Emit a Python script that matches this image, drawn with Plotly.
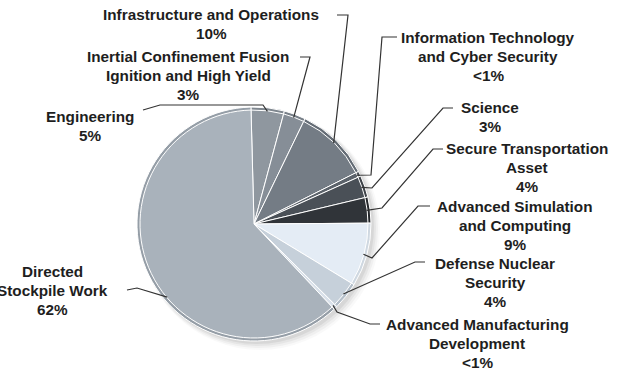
import math
import plotly.graph_objects as go

W, H = 618, 368
OFF = 0  # page body margin is removed via post_script below

# ---- data ----
labels = ["Engineering",
          "Inertial Confinement Fusion<br>Ignition and High Yield",
          "Infrastructure and Operations",
          "Information Technology<br>and Cyber Security",
          "Science",
          "Secure Transportation<br>Asset",
          "Advanced Simulation<br>and Computing",
          "Defense Nuclear<br>Security",
          "Advanced Manufacturing<br>Development",
          "Directed<br>Stockpile Work"]
values = [4.6, 3.0, 10.4, 0.7, 3.0, 3.6, 8.8, 3.8, 0.5, 61.6]
pct_text = ["5%", "3%", "10%", "<1%", "3%", "4%", "9%", "4%", "<1%", "62%"]

# ---- styles / layout ----
colors = ["#8f979f", "#868e97", "#747c85", "#5c636b", "#4a5057", "#303439",
          "#e4ecf5", "#c6d0da", "#d9e1ea", "#a9b2bb"]
rim_colors = ["#7f878f", "#777f88", "#646c75", "#4e545b", "#3d4248", "#24272b",
              "#cfd8e1", "#b3bec9", "#c4ccd5", "#959ea7"]
cx, cy, R = 254, 224, 117
rotation = -1.5
LINE_H = 19

# center x, y of first line
label_pos = [(90, 116), (188, 56), (211, 14), (488, 37), (490, 107), (527, 148),
             (515, 206), (495, 263), (477, 324), (52, 271)]
leader_pts = [
    [(143, 110), (160, 105), (263, 105)],
    [(300, 57), (310, 57)],
    [(337, 15), (348, 15)],
    [(397, 37), (382, 37), (371, 175)],
    [(453, 108), (443, 108), (372, 188)],
    [(443, 149), (433, 149), (382, 208)],
    [(430, 206), (418, 206), (372, 258)],
    [(425, 262), (415, 262)],
    [(380, 324), (370, 324), (337, 312)],
    [(127, 290), (137, 288)],
]
anchor_frac = [0.5, 0.5, 0.5, 0.5, 0.5, 0.5, 0.5, 0.5, 0.5, 0.42]


def dom(r):
    return dict(x=[(cx - OFF - r) / W, (cx - OFF + r) / W],
                y=[1 - (cy - OFF + r) / H, 1 - (cy - OFF - r) / H])


fig = go.Figure()
fig.add_trace(go.Pie(values=values, labels=labels, sort=False, direction="clockwise",
                     rotation=rotation, textinfo="none", hoverinfo="skip",
                     marker=dict(colors=rim_colors, line=dict(color="white", width=1)),
                     domain=dom(R), showlegend=False))
fig.add_trace(go.Pie(values=values, labels=labels, sort=False, direction="clockwise",
                     rotation=rotation, textinfo="none", hoverinfo="skip",
                     marker=dict(colors=colors, line=dict(color="white", width=1)),
                     domain=dom(R - 3), showlegend=False))

shapes = []
# soft shadow behind the pie
for k, alpha in [(9, 0.025), (7, 0.035), (5, 0.045), (3, 0.06)]:
    shapes.append(dict(type="circle", xref="x", yref="y", layer="below",
                       x0=cx - R + 3, x1=cx + R + k, y0=cy - R + 3, y1=cy + R + k,
                       fillcolor=f"rgba(0,0,0,{alpha})", line=dict(width=0)))

total = sum(values)
cum = 0.0
annotations = []
for i, v in enumerate(values):
    a = math.radians(rotation + (cum + v * anchor_frac[i]) / total * 360)
    cum += v
    ax = cx + 0.97 * R * math.sin(a)
    ay = cy - 0.97 * R * math.cos(a)
    pts = leader_pts[i] + [(ax, ay)]
    path = "M " + " L ".join(f"{x},{y}" for x, y in pts)
    shapes.append(dict(type="path", xref="x", yref="y", path=path,
                       line=dict(color="#333333", width=1.2)))
    lx, ly = label_pos[i]
    lines = labels[i].split("<br>") + [pct_text[i]]
    for j, t in enumerate(lines):
        annotations.append(dict(x=lx, y=ly + j * LINE_H, xref="x", yref="y", showarrow=False,
                                text=t, xanchor="center", yanchor="middle",
                                font=dict(family="Liberation Sans, Arial", size=15.3,
                                          color="#1e1e1e", weight="bold")))

fig.update_layout(
    width=W, height=H, margin=dict(l=0, r=0, t=0, b=0),
    paper_bgcolor="white", plot_bgcolor="rgba(0,0,0,0)",
    xaxis=dict(range=[OFF, W + OFF], visible=False, fixedrange=True),
    yaxis=dict(range=[H + OFF, OFF], visible=False, fixedrange=True),
    shapes=shapes, annotations=annotations,
)
fig.write_html("out.html", config={"displayModeBar": False},
               post_script="document.body.style.margin='0';document.body.style.overflow='hidden';")
